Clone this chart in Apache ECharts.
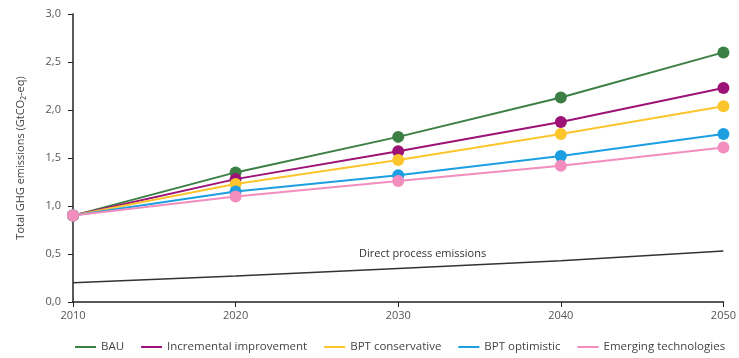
<!DOCTYPE html>
<html><head><meta charset="utf-8">
<script src="https://cdn.jsdelivr.net/npm/echarts@6/dist/echarts.min.js"></script>
<style>html,body{margin:0;padding:0;background:#fff}#c{width:739px;height:358px}</style>
</head><body><div id="c"></div>
<script>
const years = [2010, 2020, 2030, 2040, 2050];
const bau = [0.9, 1.35, 1.72, 2.13, 2.60];
const incremental = [0.9, 1.28, 1.57, 1.875, 2.23];
const bptConservative = [0.9, 1.23, 1.48, 1.75, 2.04];
const bptOptimistic = [0.9, 1.15, 1.32, 1.52, 1.75];
const emerging = [0.9, 1.10, 1.26, 1.42, 1.61];
const directProcess = [0.2, 0.27, 0.35, 0.43, 0.53];
const yTicks = ['0,0','0,5','1,0','1,5','2,0','2,5','3,0'];

const names = ['BAU','Incremental improvement','BPT conservative','BPT optimistic','Emerging technologies'];
const colors = ['#3b7f45','#9c1277','#fcc52c','#1c9fe0','#f38dbd'];
const sets = [bau, incremental, bptConservative, bptOptimistic, emerging];
const font = '"Open Sans", "Noto Sans", sans-serif';

const series = sets.map((s, i) => ({
  name: names[i], type: 'line', data: years.map((y, j) => [y, s[j]]),
  symbol: 'circle', symbolSize: 12, color: colors[i],
  lineStyle: {width: 2, color: colors[i]}, itemStyle: {color: colors[i]}, z: 3 + i
}));
series.push({
  name: 'Direct process emissions', type: 'line', data: years.map((y, j) => [y, directProcess[j]]),
  symbol: 'none', lineStyle: {width: 1.5, color: '#333'}, color: '#333', z: 2,
  markPoint: {symbol: 'rect', symbolSize: 1, itemStyle:{color:'transparent'},
    data: [{coord: [2031.5, 0.5], label: {show: true, formatter: 'Direct process emissions', color: '#333', fontSize: 11, fontFamily: font}}]}
});

const chart = echarts.init(document.getElementById('c'));
chart.setOption({
  animation: false,
  grid: {left: 73, right: 15, top: 14, bottom: 56},
  legend: {
    data: names, bottom: 0, left: 70, width: 700, itemWidth: 21, itemHeight: 2, itemGap: 17,
    icon: 'rect', textStyle: {fontSize: 11.5, color: '#444', fontFamily: font}
  },
  xAxis: {
    type: 'value', min: 2010, max: 2050, interval: 10,
    axisLine: {lineStyle: {color: '#222', width: 1.5}},
    axisTick: {show: true, length: 5, lineStyle: {color: '#222'}},
    axisLabel: {color: '#555', fontSize: 11, fontFamily: font, margin: 8, formatter: v => String(v)},
    splitLine: {show: false}
  },
  yAxis: {
    type: 'value', min: 0, max: 3, interval: 0.5,
    name: 'Total GHG emissions (GtCO₂-eq)', nameLocation: 'middle', nameGap: 47,
    nameTextStyle: {fontSize: 11, color: '#444', fontFamily: font},
    axisLine: {show: true, lineStyle: {color: '#222', width: 1.5}},
    axisTick: {show: true, length: 5, lineStyle: {color: '#222'}},
    axisLabel: {color: '#555', fontSize: 11, fontFamily: font, margin: 12,
      formatter: v => yTicks[Math.round(v * 2)]},
    splitLine: {show: false}
  },
  series: series
});
</script></body></html>
